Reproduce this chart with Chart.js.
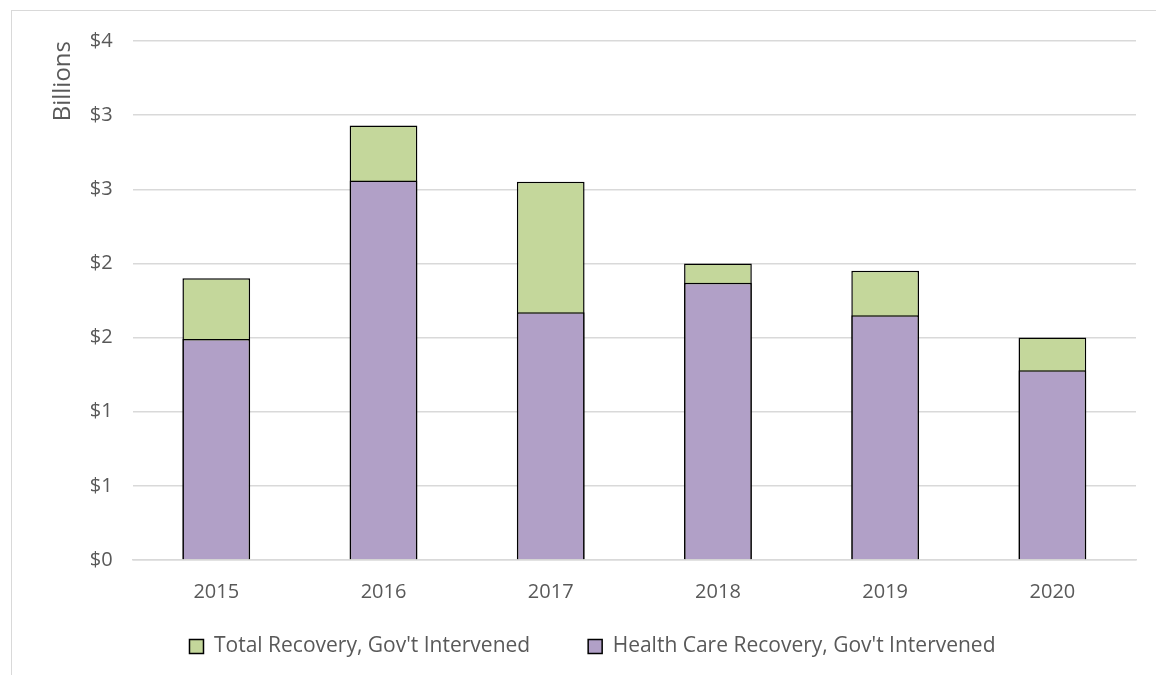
<!DOCTYPE html>
<html>
<head>
<meta charset="utf-8">
<script src="https://cdn.jsdelivr.net/npm/chart.js@4"></script>
<style>
  body { margin: 0; background: #fff; overflow: hidden; }
  #wrap {
    position: absolute; left: 11px; top: 10px;
    width: 1145px; height: 665px;
    border-left: 1px solid #d9d9d9; border-top: 1px solid #d9d9d9;
  }
</style>
</head>
<body>
<div id="wrap"><canvas id="recovery"></canvas></div>
<script>
var years = ['2015', '2016', '2017', '2018', '2019', '2020'];
// billions of dollars
var totalRecovery = [1.90, 2.93, 2.55, 2.00, 1.95, 1.50];
var healthRecovery = [1.49, 2.56, 1.67, 1.87, 1.65, 1.28];

Chart.defaults.font.family = "'Open Sans', 'Noto Sans', sans-serif";
Chart.defaults.color = '#595959';

// legend wants a wide gap between items but not the matching vertical room
var legendShift = {
    id: 'legendShift',
    afterLayout: function (chart) {
        chart.legend.top += 12 - chart.legend.options.labels.padding;
    }
};

var ctx = document.getElementById('recovery').getContext('2d');
var myChart = new Chart(ctx, {
    type: 'bar',
    data: {
        labels: years,
        datasets: [
            {
                label: "Total Recovery, Gov't Intervened",
                data: totalRecovery,
                backgroundColor: '#c4d79b',
                borderColor: '#000',
                borderWidth: 1.5,
                order: 2
            },
            {
                label: "Health Care Recovery, Gov't Intervened",
                data: healthRecovery,
                backgroundColor: '#b1a0c7',
                borderColor: '#000',
                borderWidth: 1.5,
                order: 1
            }]
    },
    plugins: [legendShift],
    options: {
        responsive: true,
        maintainAspectRatio: false,
        animation: false,
        layout: { padding: { top: 20, right: 21, left: 37, bottom: 0 } },
        datasets: { bar: { barPercentage: 0.405, categoryPercentage: 1 } },
        plugins: {
            tooltip: { enabled: false },
            legend: {
                position: 'bottom',
                maxHeight: 52,
                labels: {
                    font: { size: 21 },
                    boxWidth: 14, boxHeight: 14,
                    padding: 58,
                    generateLabels: function (chart) {
                        return chart.data.datasets.map(function (ds, i) {
                            return {
                                text: ds.label,
                                fillStyle: ds.backgroundColor,
                                strokeStyle: '#000',
                                lineWidth: 1.5,
                                fontColor: '#595959',
                                datasetIndex: i
                            };
                        });
                    }
                }
            }
        },
        scales: {
            x: {
                stacked: true,
                grid: { display: false, drawTicks: false },
                border: { color: '#d9d9d9', width: 1.5 },
                ticks: { font: { size: 20 }, padding: 20 }
            },
            y: {
                stacked: false,
                min: 0, max: 3.5,
                grid: { color: '#d9d9d9', lineWidth: 1.5, drawTicks: false },
                border: { display: false },
                ticks: {
                    stepSize: 0.5,
                    font: { size: 20, lineHeight: 1 },
                    padding: 20,
                    callback: function (value) { return '$' + Math.round(value); }
                },
                title: {
                    display: true,
                    text: 'Billions',
                    align: 'end',
                    font: { size: 24 },
                    padding: { top: 0, bottom: -8 }
                }
            }
        }
    }
});
</script>
</body>
</html>
